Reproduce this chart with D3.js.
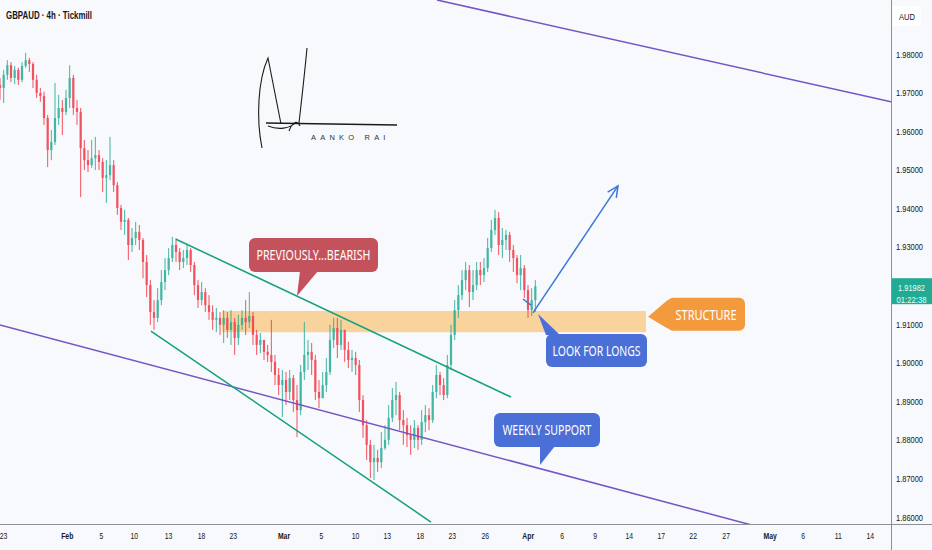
<!DOCTYPE html>
<html>
<head>
<meta charset="utf-8">
<script src="https://cdn.jsdelivr.net/npm/d3@7"></script>
<style>
  body { margin: 0; background: #f8f9fc; }
  svg { display: block; font-family: "Liberation Sans", Arial, sans-serif; }
</style>
</head>
<body>
<div id="chart"></div>
<script>
// ---- data ----
const symbolTitle = "GBPAUD · 4h · Tickmill";
const currency = "AUD";
const lastPrice = 1.91982;
const countdown = "01:22:38";

// candles, three per trading day, open = previous close
const firstOpen = 1.9720;
const closes = [
  1.9712,1.9746,1.9771,1.9738,1.9759,1.9733,1.9769,1.9784,1.9774,1.9733,
  1.9699,1.9691,1.9634,1.9551,1.9572,1.9634,1.9660,1.9650,1.9686,1.9738,
  1.9660,1.9650,1.9556,1.9525,1.9512,1.9530,1.9538,1.9520,1.9479,1.9486,
  1.9512,1.9460,1.9401,1.9365,1.9370,1.9305,1.9323,1.9339,1.9318,1.9261,
  1.9201,1.9131,1.9116,1.9162,1.9209,1.9240,1.9271,1.9305,1.9287,1.9261,
  1.9271,1.9292,1.9253,1.9201,1.9162,1.9183,1.9149,1.9131,1.9111,1.9116,
  1.9098,1.9116,1.9085,1.9105,1.9064,1.9098,1.9116,1.9105,1.9121,1.9072,
  1.9046,1.9059,1.9028,1.9020,1.9002,1.8968,1.8942,1.8955,1.8924,1.8960,
  1.8903,1.8877,1.8976,1.9020,1.9028,1.9007,1.8924,1.8908,1.8942,1.8976,
  1.9059,1.9090,1.9046,1.9085,1.9033,1.9007,1.9012,1.8994,1.8903,1.8838,
  1.8787,1.8742,1.8753,1.8742,1.8779,1.8800,1.8857,1.8903,1.8916,1.8851,
  1.8838,1.8812,1.8800,1.8831,1.8800,1.8846,1.8864,1.8851,1.8924,1.8968,
  1.8942,1.8916,1.8994,1.9072,1.9136,1.9175,1.9214,1.9240,1.9183,1.9201,
  1.9240,1.9227,1.9245,1.9297,1.9344,1.9375,1.9305,1.9318,1.9331,1.9292,
  1.9271,1.9227,1.9245,1.9188,1.9136,1.9162,1.91982
];
const highs = [
  1.9738,1.9759,1.9784,1.9779,1.9769,1.9764,1.9779,1.9803,1.9790,1.9779,
  1.9746,1.9712,1.9702,1.9642,1.9603,1.9725,1.9694,1.9681,1.9707,1.9771,
  1.9746,1.9681,1.9660,1.9577,1.9551,1.9577,1.9585,1.9551,1.9530,1.9525,
  1.9585,1.9525,1.9468,1.9409,1.9396,1.9375,1.9349,1.9365,1.9357,1.9323,
  1.9279,1.9214,1.9162,1.9193,1.9240,1.9271,1.9297,1.9326,1.9323,1.9297,
  1.9292,1.9308,1.9297,1.9261,1.9214,1.9209,1.9193,1.9175,1.9149,1.9142,
  1.9131,1.9136,1.9131,1.9136,1.9116,1.9124,1.9136,1.9162,1.9183,1.9131,
  1.9085,1.9077,1.9059,1.9046,1.9111,1.9020,1.8986,1.8981,1.8976,1.8981,
  1.8968,1.8942,1.8994,1.9105,1.9059,1.9051,1.9020,1.8955,1.8976,1.9012,
  1.9098,1.9116,1.9116,1.9111,1.9072,1.9054,1.9033,1.9028,1.9007,1.8916,
  1.8851,1.8800,1.8787,1.8774,1.8820,1.8838,1.8890,1.8934,1.8950,1.8924,
  1.8877,1.8857,1.8838,1.8851,1.8838,1.8877,1.8890,1.8882,1.8942,1.8994,
  1.8976,1.8960,1.9020,1.9098,1.9162,1.9201,1.9240,1.9261,1.9253,1.9240,
  1.9261,1.9261,1.9271,1.9323,1.9370,1.9396,1.9390,1.9349,1.9344,1.9339,
  1.9305,1.9279,1.9279,1.9253,1.9201,1.9193,1.9214
];
const lows = [
  1.9681,1.9673,1.9733,1.9727,1.9722,1.9720,1.9727,1.9764,1.9753,1.9712,
  1.9686,1.9676,1.9616,1.9507,1.9525,1.9564,1.9616,1.9590,1.9642,1.9660,
  1.9642,1.9616,1.9429,1.9499,1.9494,1.9505,1.9499,1.9499,1.9442,1.9414,
  1.9473,1.9442,1.9383,1.9344,1.9331,1.9266,1.9287,1.9305,1.9292,1.9219,
  1.9170,1.9098,1.9085,1.9105,1.9149,1.9188,1.9227,1.9261,1.9261,1.9240,
  1.9245,1.9253,1.9235,1.9175,1.9142,1.9149,1.9131,1.9111,1.9085,1.9079,
  1.9072,1.9051,1.9064,1.9046,1.9020,1.9046,1.9085,1.9072,1.9090,1.9046,
  1.9020,1.9025,1.9007,1.9002,1.8976,1.8942,1.8916,1.8859,1.8890,1.8903,
  1.8872,1.8807,1.8864,1.8955,1.8981,1.8968,1.8903,1.8882,1.8908,1.8924,
  1.8968,1.9038,1.9012,1.9033,1.9002,1.8986,1.8976,1.8968,1.8872,1.8805,
  1.8748,1.8701,1.8696,1.8717,1.8727,1.8774,1.8787,1.8846,1.8864,1.8825,
  1.8787,1.8781,1.8761,1.8779,1.8774,1.8787,1.8820,1.8825,1.8844,1.8908,
  1.8916,1.8903,1.8908,1.8981,1.9059,1.9116,1.9162,1.9188,1.9144,1.9162,
  1.9188,1.9201,1.9209,1.9235,1.9287,1.9331,1.9279,1.9271,1.9292,1.9261,
  1.9235,1.9206,1.9188,1.9168,1.9116,1.9121,1.9131
];
const barsPerDay = 3;
const firstBarDay = -0.27;

// axes (1.92000 sits under the last-price tag, so it is not listed)
const priceTicks = [1.86,1.87,1.88,1.89,1.90,1.91,1.93,1.94,1.95,1.96,1.97,1.98];
const dateTicks  = [0,5.8,8.9,11.9,15,18,20.9,25.5,28.9,32,34.9,37.9,40.8,43.8,47.7,50.8,53.8,56.9,59.8,62.7,65.7,69.7,72.7,75.9,78.8];
const dateLabels = ["23","Feb","5","10","13","18","23","Mar","5","10","13","18","23","26","Apr","6","9","14","17","22","27","May","6","11","14"];
const monthNames = ["Feb","Mar","Apr","May"];

// drawings, as [day, price] points
const weeklyLines  = [[[39.45,1.9940],[80.73,1.9676]], [[-0.27,1.9098],[68.09,1.8579]]];
const channelLines = [[[15.73,1.9320],[46.18,1.8911]], [[13.45,1.9082],[38.91,1.8587]]];
const structureZone = [[19.9,1.9134],[58.45,1.9079]];
const projection = [[48.18,1.9129],[55.91,1.9458]];
const projectionTail = [[47.27,1.9165],[48.0,1.9149]];
const callouts = [
  { text: "PREVIOUSLY...BEARISH", day: 26.73, price: 1.9173 },
  { text: "LOOK FOR LONGS",       day: 48.64, price: 1.9126 },
  { text: "WEEKLY SUPPORT",       day: 48.82, price: 1.8735 },
  { text: "STRUCTURE",            day: 58.64, price: 1.9119 }
];

// ---- layout ----
const width = 932, height = 550;
const plotRight = 891, plotBottom = 524;
const upColor = "#22ab94", downColor = "#f23645";

// box [dx, dy, w, h] and pointer base relative to the anchor, text width
const calloutStyle = [
  { fill: "#c4525c", box: [-48, -58, 129, 34], base: [[3, -25], [21, -25]], tw: 114 },
  { fill: "#4a6fd6", box: [8, 20, 101, 33],    base: [[8, 21], [22, 21]],   tw: 88 },
  { fill: "#4a6fd6", box: [-46, -52, 106, 34], base: [[0, -19], [15, -19]], tw: 89 },
  { fill: "#f39a3c", box: [19, -19, 78, 33],   base: [[20, -17], [20, 12]], tw: 61 }
];

const x = d3.scaleLinear().domain([-0.27, 80.73]).range([0, plotRight]);
const y = d3.scaleLinear().domain([1.86, 1.98]).range([517, 54]);

const svg = d3.select("#chart").append("svg")
  .attr("width", width).attr("height", height);

svg.append("rect").attr("width", width).attr("height", height).attr("fill", "#f8f9fc");

svg.append("defs").append("clipPath").attr("id", "plot")
  .append("rect").attr("width", plotRight).attr("height", plotBottom);

const plot = svg.append("g").attr("clip-path", "url(#plot)");
const line = d3.line().x(d => x(d[0])).y(d => y(d[1]));

// structure zone
plot.append("rect")
  .attr("x", x(structureZone[0][0])).attr("y", y(structureZone[0][1]))
  .attr("width", x(structureZone[1][0]) - x(structureZone[0][0]))
  .attr("height", y(structureZone[1][1]) - y(structureZone[0][1]))
  .attr("fill", "#f9b95c").attr("opacity", 0.6);

// candles
const candles = closes.map((c, i) => ({
  day: firstBarDay + i / barsPerDay,
  open: i ? closes[i - 1] : firstOpen,
  high: highs[i], low: lows[i], close: c
}));

const cg = plot.append("g").selectAll("g").data(candles).join("g")
  .attr("opacity", 0.85);
cg.append("line")
  .attr("x1", d => x(d.day)).attr("x2", d => x(d.day))
  .attr("y1", d => y(Math.max(d.high, d.open, d.close)))
  .attr("y2", d => y(Math.min(d.low, d.open, d.close)))
  .attr("stroke", d => d.close >= d.open ? upColor : downColor)
  .attr("stroke-width", 1);
cg.append("rect")
  .attr("x", d => x(d.day) - 1.1).attr("width", 2.2)
  .attr("y", d => y(Math.max(d.open, d.close)))
  .attr("height", d => Math.max(1, Math.abs(y(d.open) - y(d.close))))
  .attr("fill", d => d.close >= d.open ? upColor : downColor);

// trend lines
plot.selectAll("path.weekly").data(weeklyLines).join("path")
  .attr("class", "weekly").attr("d", line)
  .attr("stroke", "#7455c4").attr("stroke-width", 1.5).attr("fill", "none");
plot.selectAll("path.channel").data(channelLines).join("path")
  .attr("class", "channel").attr("d", line)
  .attr("stroke", "#14a07c").attr("stroke-width", 1.5).attr("fill", "none");

// projection arrow
plot.append("path").attr("d", line(projection))
  .attr("stroke", "#3a78d8").attr("stroke-width", 1.5).attr("fill", "none");
plot.append("path").attr("d", line(projectionTail))
  .attr("stroke", "#3a78d8").attr("stroke-width", 1.5).attr("fill", "none");
{
  const [x0, y0] = [x(projection[0][0]), y(projection[0][1])];
  const [x1, y1] = [x(projection[1][0]), y(projection[1][1])];
  const a = Math.atan2(y1 - y0, x1 - x0), len = 12, spread = 0.45;
  plot.append("path")
    .attr("d", `M${x1 - len * Math.cos(a - spread)},${y1 - len * Math.sin(a - spread)}L${x1},${y1}L${x1 - len * Math.cos(a + spread)},${y1 - len * Math.sin(a + spread)}`)
    .attr("stroke", "#3a78d8").attr("stroke-width", 1.5).attr("fill", "none");
}

// callouts
callouts.forEach((c, i) => {
  const s = calloutStyle[i];
  const ax = x(c.day), ay = y(c.price);
  const g = svg.append("g").attr("transform", `translate(${ax},${ay})`);
  g.append("path")
    .attr("d", `M0,0L${s.base[0][0]},${s.base[0][1]}L${s.base[1][0]},${s.base[1][1]}Z`)
    .attr("fill", s.fill);
  g.append("rect")
    .attr("x", s.box[0]).attr("y", s.box[1]).attr("width", s.box[2]).attr("height", s.box[3])
    .attr("rx", 6).attr("fill", s.fill);
  g.append("text")
    .attr("x", s.box[0] + s.box[2] / 2).attr("y", s.box[1] + s.box[3] / 2 + 5.5)
    .attr("text-anchor", "middle")
    .attr("font-family", "'Noto Sans', sans-serif").attr("font-size", 15)
    .attr("textLength", s.tw).attr("lengthAdjust", "spacingAndGlyphs")
    .attr("fill", "#ffffff").text(c.text);
});

// signature
const sig = svg.append("g").attr("fill", "none").attr("stroke", "#1b1b1b").attr("stroke-width", 1.1);
sig.append("path").attr("d", "M262,148C256,118 258,80 268,58L281,124");
sig.append("path").attr("d", "M307,48C304,80 301,105 299,123");
sig.append("path").attr("d", "M266,123L397,125").attr("stroke-width", 1.4);
sig.append("path").attr("d", "M268,126C278,130 290,129 296,122M289,131C292,123 297,119 300,126");
svg.append("text").attr("x", 311).attr("y", 140)
  .attr("font-size", 7.5).attr("letter-spacing", 4.2).attr("fill", "#333")
  .text("AANKO RAI");

// header
svg.append("text").attr("x", 6).attr("y", 19)
  .attr("font-size", 11).attr("font-weight", "bold").attr("fill", "#131722")
  .attr("textLength", 86).attr("lengthAdjust", "spacingAndGlyphs")
  .text(symbolTitle);

// price axis
svg.append("g").attr("transform", `translate(${plotRight},0)`)
  .call(d3.axisRight(y).tickValues(priceTicks).tickFormat(d3.format(".5f")).tickSize(0).tickPadding(5))
  .call(g => g.select(".domain").remove())
  .selectAll("text")
  .attr("font-size", 9.5).attr("fill", "#131722")
  .attr("font-family", "'Liberation Sans', sans-serif")
  .attr("textLength", 27).attr("lengthAdjust", "spacingAndGlyphs");

// date axis
const xAxisG = svg.append("g").attr("transform", `translate(0,${plotBottom})`)
  .call(d3.axisBottom(x).tickValues(dateTicks).tickFormat((d, i) => dateLabels[i]).tickSize(0).tickPadding(8))
  .call(g => g.select(".domain").remove());
xAxisG.selectAll("text")
  .attr("font-size", 9.5).attr("fill", "#131722")
  .attr("transform", "scale(0.72,1)")
  .attr("font-weight", d => monthNames.includes(dateLabels[dateTicks.indexOf(d)]) ? "bold" : "normal");

// axis lines
svg.append("line").attr("x1", 0).attr("x2", width).attr("y1", plotBottom + 0.5).attr("y2", plotBottom + 0.5)
  .attr("stroke", "#8c8f99");
svg.append("line").attr("x1", plotRight + 0.5).attr("x2", plotRight + 0.5).attr("y1", 0).attr("y2", height)
  .attr("stroke", "#8c8f99");

// currency tag
svg.append("rect").attr("x", 893).attr("y", 6).attr("width", 28).attr("height", 20).attr("fill", "#ffffff");
svg.append("text").attr("x", 907).attr("y", 20).attr("text-anchor", "middle")
  .attr("font-size", 9.5).attr("fill", "#131722")
  .attr("textLength", 16).attr("lengthAdjust", "spacingAndGlyphs").text(currency);

// last price tag
const ly = y(lastPrice);
svg.append("rect").attr("x", plotRight + 1).attr("y", ly - 8).attr("width", width - plotRight - 1).attr("height", 26)
  .attr("fill", upColor);
svg.append("text").attr("x", 911.5).attr("y", ly + 4.5).attr("text-anchor", "middle")
  .attr("font-size", 9.5).attr("fill", "#e8fbf6")
  .attr("textLength", 27).attr("lengthAdjust", "spacingAndGlyphs").text(d3.format(".5f")(lastPrice));
svg.append("text").attr("x", 911.5).attr("y", ly + 17).attr("text-anchor", "middle")
  .attr("font-size", 9.5).attr("fill", "#e8fbf6")
  .attr("textLength", 30).attr("lengthAdjust", "spacingAndGlyphs").text(countdown);
</script>
</body>
</html>
